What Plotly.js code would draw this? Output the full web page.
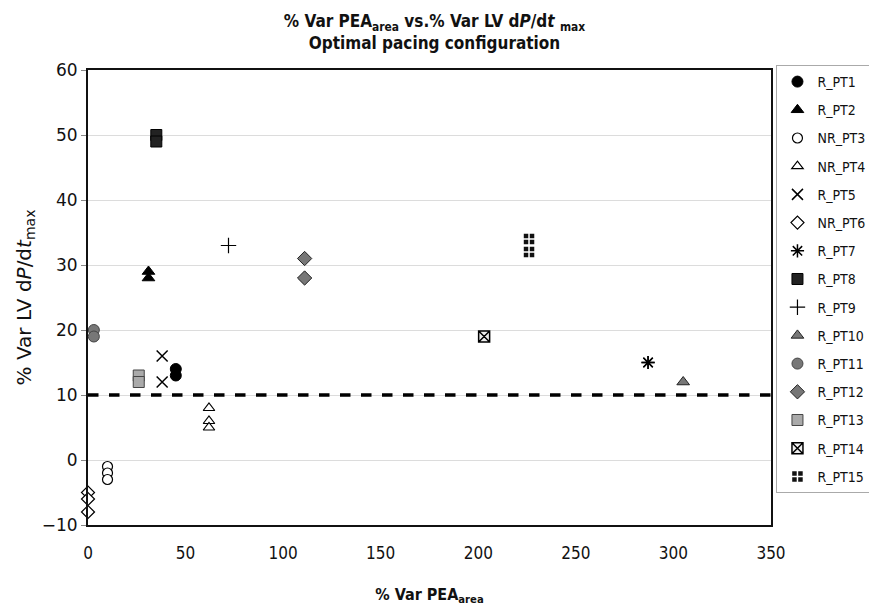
<!DOCTYPE html>
<html><head><meta charset="utf-8">
<script src="https://cdn.plot.ly/plotly-3.0.1.min.js"></script>
<style>body{margin:0;background:#fff}</style></head>
<body><div id="chart" style="width:869px;height:606px"></div>
<script>
const names = ["R_PT1","R_PT2","NR_PT3","NR_PT4","R_PT5","NR_PT6","R_PT7","R_PT8","R_PT9","R_PT10","R_PT11","R_PT12","R_PT13","R_PT14","R_PT15"];
const xVals = [
  [45,45],
  [31,31],
  [10,10,10],
  [62,62,62],
  [38,38],
  [0,0,0],
  [287,287],
  [35,35],
  [72],
  [305],
  [3,3],
  [111,111],
  [26,26],
  [203],
  [226,226]
];
const yVals = [
  [14,13],
  [29,28],
  [-1,-2,-3],
  [8,6,5],
  [16,12],
  [-5,-6,-8],
  [15,15],
  [50,49],
  [33],
  [12],
  [20,19],
  [31,28],
  [13,12],
  [19],
  [34,32]
];
const threshold = 10;

const styles = [
  {symbol:"circle", color:"#000", line:{color:"#000",width:1}, size:11},
  {symbol:"triangle-up", color:"#000", line:{color:"#000",width:1}, size:11},
  {symbol:"circle", color:"#fff", line:{color:"#000",width:1.2}, size:10},
  {symbol:"triangle-up", color:"#fff", line:{color:"#000",width:1.2}, size:10},
  {symbol:"x-thin-open", color:"#000", line:{color:"#000",width:1.5}, size:11},
  {symbol:"diamond", color:"#fff", line:{color:"#000",width:1.2}, size:10},
  {symbol:"asterisk-open", color:"#000", line:{color:"#000",width:1.5}, size:11},
  {symbol:"square", color:"#222", line:{color:"#000",width:1}, size:11},
  {symbol:"cross-thin-open", color:"#000", line:{color:"#000",width:1.2}, size:11},
  {symbol:"triangle-up", color:"#777", line:{color:"#222",width:1}, size:11},
  {symbol:"circle", color:"#777", line:{color:"#444",width:1}, size:11},
  {symbol:"diamond", color:"#777", line:{color:"#222",width:1}, size:11},
  {symbol:"square", color:"#aaa", line:{color:"#444",width:1}, size:11},
  {symbol:"square-x", color:"#eee", line:{color:"#000",width:1.5}, size:11},
  {symbol:"square-cross", color:"#111", line:{color:"#fff",width:1.5}, size:12}
];

const traces = names.map((n,i)=>({
  type:"scatter", mode:"markers", name:n, x:xVals[i], y:yVals[i],
  legendgroup:n,
  marker:{symbol:styles[i].symbol, color:styles[i].color, size:styles[i].size, line:styles[i].line},
  cliponaxis:false
}));

const font = "DejaVu Sans, Verdana, sans-serif";
const cond = "DejaVu Sans Condensed, DejaVu Sans, sans-serif";
const layout = {
  width:869, height:606,
  margin:{l:88, r:98, t:70, b:81, autoexpand:false},
  paper_bgcolor:"#fff", plot_bgcolor:"#fff",
  title:{
    text:"<b>% Var PEA<sub>area</sub> vs.% Var LV d<i>P</i>/d<i>t</i> <sub>max</sub></b><br><b>Optimal pacing configuration</b>",
    font:{family:cond, size:17, color:"#111"},
    x:0.5, xanchor:"center", y:0.955, yanchor:"top"
  },
  xaxis:{
    range:[0,350], dtick:50, tick0:0,
    showgrid:false, zeroline:false,
    showline:true, mirror:true, linecolor:"#111", linewidth:2,
    ticks:"outside", ticklen:12, tickcolor:"rgba(0,0,0,0)",
    tickfont:{family:cond, size:17, color:"#111"},
    title:{text:"<b>% Var PEA<sub>area</sub></b>", font:{family:cond, size:16, color:"#111"}, standoff:30}
  },
  yaxis:{
    range:[-10,60], dtick:10, tick0:0,
    showgrid:true, gridcolor:"#dcdcdc", gridwidth:1, zeroline:false,
    showline:true, mirror:true, linecolor:"#111", linewidth:2,
    ticks:"outside", ticklen:5, tickcolor:"#888",
    tickfont:{family:font, size:17, color:"#111"},
    title:{text:"% Var LV d<i>P</i>/d<i>t</i><sub>max</sub>", font:{family:font, size:20, color:"#111"}, standoff:5}
  },
  shapes:[{type:"line", xref:"paper", x0:0, x1:1, yref:"y", y0:threshold, y1:threshold,
    line:{color:"#000", width:3.5, dash:"dash"}}],
  legend:{
    x:1.008, xanchor:"left", y:1.011, yanchor:"top",
    bordercolor:"#aaa", borderwidth:1, bgcolor:"#fff",
    font:{family:cond, size:14, color:"#111"},
    traceorder:"grouped", tracegroupgap:7, itemwidth:30,
    maxheight:600
  },
  showlegend:true
};
Plotly.newPlot("chart", traces, layout, {displayModeBar:false, staticPlot:true});
</script></body></html>
